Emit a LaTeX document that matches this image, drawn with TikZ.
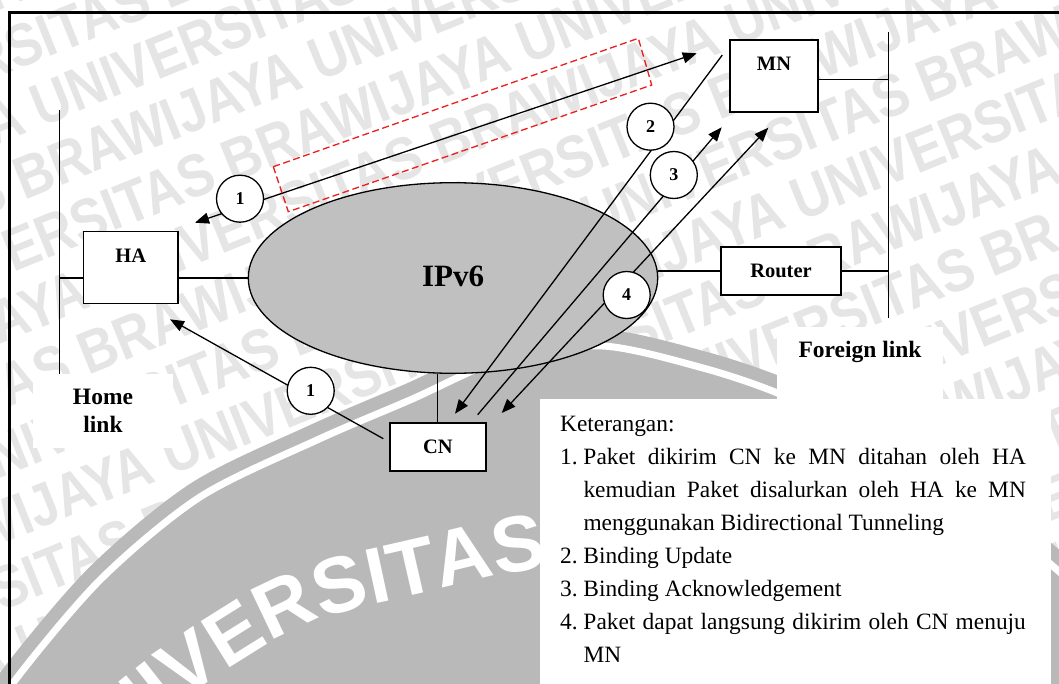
\documentclass[tikz,border=0pt]{standalone}
\usepackage{fontspec}
\usepackage{graphicx}
\setmainfont{Liberation Serif}
\newfontfamily\wmsans{Liberation Sans}
\usetikzlibrary{shapes.geometric,arrows.meta,decorations.text}

\definecolor{netgray}{RGB}{192,192,192}
\definecolor{logogray}{RGB}{185,185,185}
\definecolor{wmgray}{RGB}{229,229,229}
\definecolor{tunnelred}{RGB}{235,30,30}

% numbered entry of the legend with a hanging indent
\newcommand\ketitem[1]{\hangindent=23.3pt\hangafter=1\noindent\makebox[23.3pt][l]{#1}}
% one row of the background watermark, shifted by #1 pt
\newcommand\wmrow{UNIVERSITAS BRAWIJAYA UNIVERSITAS BRAWIJAYA UNIVERSITAS BRAWIJAYA UNIVERSITAS BRAWIJAYA}
\newcommand\wl[1]{\scalebox{0.87}[1]{\hspace*{#1pt}\wmrow}\\}
\newcommand\logofont{\wmsans\bfseries\fontsize{79}{79}\selectfont}

\begin{document}
\begin{tikzpicture}[x=1pt, y=-1pt,
  wmtext/.style={inner sep=0pt, text=wmgray, align=left, font=\wmsans\bfseries\fontsize{60}{62}\selectfont},
  devbox/.style={draw, line width=1.7pt, fill=white, inner sep=0pt,
    font=\fontsize{20.5}{24}\selectfont\bfseries},
  topbox/.style={devbox, anchor=north west, text height=31pt, text depth=41pt},
  labelpanel/.style={fill=white, inner sep=0pt, font=\fontsize{23.5}{27.7}\selectfont\bfseries},
  wire/.style={line width=1.3pt},
  flow/.style={line width=1.3pt, -{Triangle[length=14pt,width=11pt]}},
  flow2/.style={line width=1.3pt, {Triangle[length=14pt,width=11pt]}-{Triangle[length=14pt,width=11pt]}},
  tunnel/.style={draw=tunnelred, line width=1.3pt, dash pattern=on 7pt off 3.5pt},
  numcirc/.style={circle, draw, fill=white, line width=1.3pt, minimum size=47pt, inner sep=0pt,
    font=\fontsize{18}{18}\selectfont\bfseries}
]
\useasboundingbox (0,0) rectangle (1059,684);
\clip (0,0) rectangle (1059,684);
\fill[white] (0,0) rectangle (1059,684);

% background watermark rows
\node[wmtext, rotate=22] (wm) at (530,342) {\wl{0}\wl{230}\wl{460}\wl{690}\wl{224}\wl{454}\wl{684}%
\wl{218}\wl{448}\wl{678}\wl{212}\wl{442}\wl{672}\wl{206}\wl{436}\wl{666}\wl{200}\wl{430}\wl{660}%
\scalebox{0.87}[1]{\hspace*{194pt}\wmrow}};

% university emblem behind the diagram
\fill[logogray] plot[smooth] coordinates {(-20,740) (13,683) (100,580) (200,497) (317,440) (410,400) (506,358) (603,346) (703,368) (780,394) (880,440) (980,505) (1080,590)} -- (1100,800) -- (-50,800) -- cycle;
\draw[logogray, line width=33pt] plot[smooth] coordinates {(-20,740) (13,683) (100,580) (200,497) (317,440) (410,400) (506,358) (603,346) (703,368) (780,394) (880,440) (980,505) (1080,590)};
\draw[white, line width=7pt] plot[smooth] coordinates {(-20,740) (13,683) (100,580) (200,497) (317,440) (410,400) (506,358) (603,346) (703,368) (780,394) (880,440) (980,505) (1080,590)};
\path[decorate, decoration={text along path, text={|\logofont|UNIVERSITAS BRAWIJAYA}, text color=white, text align=left}]
  plot[smooth] coordinates {(77,787) (140,735) (203,686) (290,632) (350,610) (420,594) (500,575) (600,561) (760,556)};

% label panels
\node[labelpanel, minimum width=140pt, minimum height=74pt, align=center] (homelbl) at (103,411) {Home\\link};
\node[labelpanel, minimum width=166pt, text height=30pt, text depth=42pt] (forlbl) at (860,363) {Foreign link};
\fill[white] (540,399) rectangle (1051,700);
\node[anchor=base west, inner sep=0pt] (ket) at (560,431) {\parbox[t]{465.7pt}{\fontsize{23.4}{33}\selectfont
Keterangan:\par
\ketitem{1.}Paket dikirim CN ke MN ditahan oleh HA\linebreak kemudian Paket disalurkan oleh HA ke MN\linebreak menggunakan Bidirectional Tunneling\par
\ketitem{2.}Binding Update\par
\ketitem{3.}Binding Acknowledgement\par
\ketitem{4.}Paket dapat langsung dikirim oleh CN menuju\linebreak MN}};

% links
\coordinate (homeTop) at (59.3,110);
\coordinate (homeBot) at (59.3,374);
\coordinate (forTop) at (888.3,31.7);
\coordinate (forBot) at (888.3,318.3);
\draw[wire] (homeTop) -- (homeBot);
\draw[wire] (forTop) -- (forBot);

% network and hosts
\node[ellipse, draw, line width=1.3pt, fill=netgray, minimum width=409.4pt, minimum height=190.6pt,
  inner sep=0pt, font=\fontsize{31}{31}\selectfont\bfseries] (net) at (453,278) {\raisebox{3pt}{IPv6}};
\node[topbox, minimum width=94.6pt] (HA) at (82.7,230.7) {HA};
\node[topbox, minimum width=87.7pt] (MN) at (729.3,39) {MN};
\node[devbox, minimum width=119.4pt, minimum height=48pt] (Router) at (781,271) {Router};
\node[devbox, minimum width=95.7pt, minimum height=48.6pt] (CN) at (437.8,447) {CN};

\draw[wire] (net.west) -- (net.west -| HA.east);
\draw[wire] (net.west -| HA.west) -- (net.west -| homeTop);
\draw[wire] ([yshift=-4pt]MN.east) -- ([yshift=-4pt]MN.east -| forTop);
\draw[wire] (Router.west) -- (Router.west -| net.east);
\draw[wire] (Router.east) -- (Router.east -| forTop);
\draw[wire] (CN.north) -- (CN.north |- net.south);

% message arrows
\coordinate (t1a) at (195,222.7);
\coordinate (t1b) at (696.7,53.3);
\coordinate (s1c) at (383.3,438.7);
\coordinate (t1c) at (170,319.3);
\coordinate (s2) at (722.3,55);
\coordinate (t2) at (455,413.7);
\coordinate (s3) at (477.7,414.7);
\coordinate (t3) at (721.7,127.3);
\coordinate (t4a) at (501.7,413);
\coordinate (t4b) at (768.3,127.7);
\draw[flow2] (t1a) -- (t1b);
\draw[flow] (s1c) -- (t1c);
\draw[flow] (s2) -- (t2);
\draw[flow] (s3) -- (t3);
\draw[flow2] (t4a) -- (t4b);

% tunnel outline
\draw[tunnel] (273.3,166.7) -- (638.3,38.3) -- (651.7,85) -- (288.3,211.7) -- cycle;

% step numbers
\node[numcirc] (c1a) at (240,198.7) {1};
\node[numcirc] (c1b) at (310.7,390.8) {1};
\node[numcirc] (c2) at (650.5,126.7) {2};
\node[numcirc] (c3) at (673.8,175) {3};
\node[numcirc] (c4) at (626.7,295) {4};

% page frame
\draw[line width=3pt] (9.7,12.5) rectangle (1080,700);
\end{tikzpicture}
\end{document}
